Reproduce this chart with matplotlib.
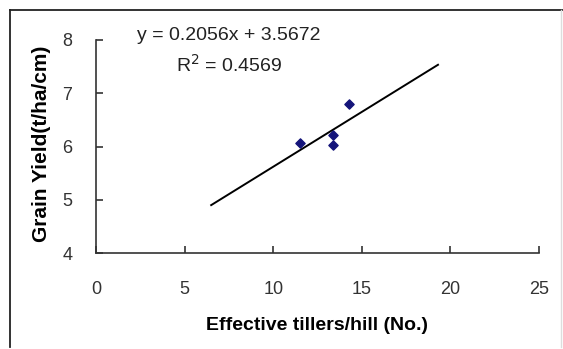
import numpy as np
import matplotlib
matplotlib.use("Agg")
import matplotlib.pyplot as plt
from matplotlib.lines import Line2D

# data
tillers = [11.5, 13.4, 13.4, 14.3]
grain_yield = [6.07, 6.21, 6.03, 6.80]
slope = 0.2056
intercept = 3.5672
r_squared = 0.4569
trend_x = [6.5, 19.3]

xticks = [0, 5, 10, 15, 20, 25]
yticks = [4, 5, 6, 7, 8]

plt.rcParams['font.family'] = ['Liberation Sans', 'DejaVu Sans']

W, H = 563, 349
fig = plt.figure(figsize=(W/100, H/100), dpi=100)
ax = fig.add_axes([96/W, 1 - 253.3/H, (539 - 96)/W, (253.3 - 40)/H])

tx = np.array(trend_x)
ax.plot(tx, slope*tx + intercept, color='black', lw=1.4, zorder=2)
ax.scatter(tillers, grain_yield, marker='D', s=22, color='#14147a', zorder=3)

ax.set_xlim(0, 25)
ax.set_ylim(4, 8)
ax.set_xticks(xticks)
ax.set_yticks(yticks)
ax.spines['top'].set_visible(False)
ax.spines['right'].set_visible(False)
for s in ('left', 'bottom'):
    ax.spines[s].set_color('#333333')
    ax.spines[s].set_linewidth(1.2)
ax.tick_params(direction='in', length=5, width=1.2, color='#333333',
               labelsize=13, labelcolor='#333333')
ax.tick_params(axis='x', pad=20)
ax.tick_params(axis='y', pad=17)

ax.set_xlabel('Effective tillers/hill (No.)', fontsize=14, fontweight='bold', va='center')
ax.set_ylabel('Grain Yield(t/ha/cm)', fontsize=15, fontweight='bold', va='center')
ax.xaxis.set_label_coords((317 - 96)/443, -(326 - 253.3)/213.3)
ax.yaxis.set_label_coords((42 - 96)/443, (253.3 - 144)/213.3)

fig.text(229/W, 1 - 36/H, f'y = {slope}x + {intercept}', ha='center', va='center',
         fontsize=14, color='#222222')
fig.text(229/W, 1 - 65/H, f'R$^2$ = {r_squared}', ha='center', va='center',
         fontsize=14, color='#222222')

# outer chart frame
fig.add_artist(Line2D([10/W, 1], [1 - 10/H, 1 - 10/H], transform=fig.transFigure, color='#222222', lw=1.3))
fig.add_artist(Line2D([10/W, 10/W], [1 - 10/H, 1 - 347/H], transform=fig.transFigure, color='#222222', lw=1.3))
fig.add_artist(Line2D([561/W, 561/W], [1 - 10/H, 1 - 347/H], transform=fig.transFigure, color='#dddddd', lw=1))

fig.savefig('out.png', dpi=100)
